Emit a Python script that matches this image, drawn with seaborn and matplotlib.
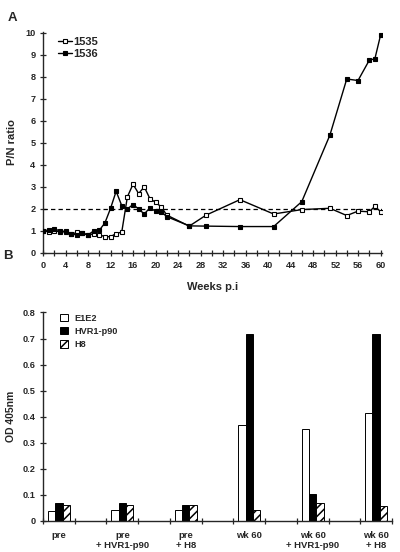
import numpy as np
import pandas as pd
import matplotlib
matplotlib.use("Agg")
import matplotlib.pyplot as plt
import seaborn as sns
from matplotlib.patches import Patch
from matplotlib.lines import Line2D

# ---------------- data ----------------
weeks_1535 = [0, 1, 2, 3, 4, 5, 6, 7, 8, 9, 10, 11, 12, 13, 14, 15, 16, 17, 18, 19, 20, 21, 22,
              26, 29, 35, 41, 46, 51, 54, 56, 58, 59, 60]
pn_1535 = [1.0, 0.97, 1.0, 0.97, 0.95, 0.85, 0.93, 0.92, 0.8, 0.88, 0.83, 0.74, 0.74, 0.88, 0.95,
           2.55, 3.12, 2.7, 3.0, 2.47, 2.3, 2.1, 1.72, 1.22, 1.72, 2.42, 1.77, 1.97, 2.03, 1.7,
           1.9, 1.87, 2.12, 1.88]
weeks_1536 = [0, 1, 2, 3, 4, 5, 6, 7, 8, 9, 10, 11, 12, 13, 14, 15, 16, 17, 18, 19, 20, 21, 22,
              26, 29, 35, 41, 46, 51, 54, 56, 58, 59, 60]
pn_1536 = [1.0, 1.05, 1.1, 1.0, 0.98, 0.87, 0.82, 0.9, 0.82, 1.0, 1.03, 1.36, 2.02, 2.8, 2.15,
           2.0, 2.2, 2.0, 1.77, 2.05, 1.9, 1.88, 1.65, 1.23, 1.22, 1.2, 1.2, 2.33, 5.35, 7.9,
           7.83, 8.75, 8.82, 9.88]
cutoff = 2.0

groups = ["pre", "pre\n+ HVR1-p90", "pre\n+ H8", "wk 60", "wk 60\n+ HVR1-p90", "wk 60\n+ H8"]
antigens = ["E1E2", "HVR1-p90", "H8"]
od_e1e2 = [0.039, 0.043, 0.043, 0.369, 0.351, 0.413]
od_hvr1 = [0.068, 0.069, 0.063, 0.718, 0.104, 0.716]
od_h8 = [0.063, 0.063, 0.060, 0.041, 0.068, 0.059]

# ---------------- style ----------------
sns.set_style("ticks")
plt.rcParams["font.family"] = ["Liberation Sans", "DejaVu Sans"]
plt.rcParams["font.weight"] = "bold"
plt.rcParams["hatch.linewidth"] = 1.1

fig = plt.figure(figsize=(4.0, 5.52), dpi=100)

# ---------------- panel A ----------------
axA = fig.add_axes([0.1075, 0.5417, 0.848, 0.401])
sns.lineplot(x=weeks_1535, y=pn_1535, ax=axA, color="black", linewidth=1.0,
             marker="s", markersize=3.3, markerfacecolor="white", markeredgecolor="black",
             markeredgewidth=0.8, sort=False, zorder=3)
sns.lineplot(x=weeks_1536, y=pn_1536, ax=axA, color="black", linewidth=1.0,
             marker="s", markersize=3.3, markerfacecolor="black", markeredgecolor="black",
             markeredgewidth=0.8, sort=False, zorder=3)
axA.axhline(cutoff, xmin=0, xmax=1, color="black", linestyle=(0, (3.5, 2.5)), linewidth=0.9, zorder=2)
axA.set_xlim(0, 60.3)
axA.set_ylim(0, 10.05)
axA.set_xticks(np.arange(0, 61, 2), minor=False)
axA.set_xticklabels([str(v) if v % 4 == 0 else "" for v in range(0, 61, 2)])
axA.set_yticks(range(0, 11))
axA.tick_params(axis="both", direction="inout", length=4, width=0.9, labelsize=6.6, pad=3.5)
for lab in axA.get_xticklabels() + axA.get_yticklabels():
    lab.set_fontweight("bold")
for s in ["top", "right"]:
    axA.spines[s].set_visible(False)
for s in ["left", "bottom"]:
    axA.spines[s].set_linewidth(1.0)
axA.set_xlabel("Weeks p.i", fontsize=8, fontweight="bold", labelpad=9)
axA.set_ylabel("P/N ratio", fontsize=8, fontweight="bold", labelpad=6)
hA = [Line2D([0], [0], color="black", lw=1.0, marker="s", markersize=3.0,
             markerfacecolor="white", markeredgecolor="black", markeredgewidth=0.8),
      Line2D([0], [0], color="black", lw=1.0, marker="s", markersize=3.0,
             markerfacecolor="black", markeredgecolor="black", markeredgewidth=0.8)]
axA.legend(hA, ["1535", "1536"], loc="upper left", bbox_to_anchor=(0.02, 1.012), frameon=False,
           prop={"size": 8, "weight": "bold"}, handlelength=1.3, handletextpad=0.15,
           labelspacing=0.2, borderaxespad=0.3)
fig.text(0.018, 0.978, "A", fontsize=9.5, fontweight="bold", va="top", ha="left")

# ---------------- panel B ----------------
slots = []
for i, g in enumerate(groups):
    slots.append(g)
    if i < len(groups) - 1:
        slots.append(" " * (i + 1))
df = pd.DataFrame({
    "group": groups * 3,
    "antigen": [antigens[0]] * 6 + [antigens[1]] * 6 + [antigens[2]] * 6,
    "od": od_e1e2 + od_hvr1 + od_h8,
})
axB = fig.add_axes([0.1075, 0.0562, 0.8725, 0.3778])
sns.barplot(data=df, x="group", y="od", hue="antigen", order=slots, hue_order=antigens,
            palette=["white", "black", "white"], edgecolor="black", linewidth=0.7,
            width=0.7, gap=0, saturation=1, ax=axB, legend=False, errorbar=None)
for bar in axB.containers[2]:
    bar.set_hatch("////")
axB.set_xlim(-0.5, len(slots) - 0.5)
axB.set_ylim(0, 0.8)
axB.set_xticks(np.arange(-0.5, len(slots), 1.0))
axB.set_xticklabels([])
axB.set_xticks([slots.index(g) for g in groups], minor=True)
axB.set_xticklabels(groups, minor=True, fontsize=6.8, fontweight="bold", linespacing=1.2)
axB.tick_params(axis="x", which="minor", length=0, pad=7)
axB.tick_params(axis="x", which="major", direction="inout", length=4, width=0.9)
axB.set_yticks(np.arange(0, 0.81, 0.1))
axB.set_yticklabels(["0"] + ["%.1f" % v for v in np.arange(0.1, 0.81, 0.1)])
axB.tick_params(axis="y", direction="inout", length=4, width=0.9, labelsize=6.6, pad=3.5)
for lab in axB.get_yticklabels():
    lab.set_fontweight("bold")
for s in ["top", "right"]:
    axB.spines[s].set_visible(False)
for s in ["left", "bottom"]:
    axB.spines[s].set_linewidth(1.0)
axB.set_xlabel("")
axB.set_ylabel("OD 405nm", fontsize=7.5, fontweight="bold", labelpad=5)
hB = [Patch(facecolor="white", edgecolor="black", linewidth=0.7),
      Patch(facecolor="black", edgecolor="black", linewidth=0.7),
      Patch(facecolor="white", edgecolor="black", linewidth=0.7, hatch="////")]
axB.legend(hB, antigens, loc="upper left", bbox_to_anchor=(0.03, 1.025), frameon=False,
           prop={"size": 6.6, "weight": "bold"}, handlelength=0.9, handleheight=0.9,
           handletextpad=0.7, labelspacing=0.45, borderaxespad=0.3)
fig.text(0.008, 0.548, "B", fontsize=9.5, fontweight="bold", va="top", ha="left")

fig.savefig("out.png", dpi=100)
